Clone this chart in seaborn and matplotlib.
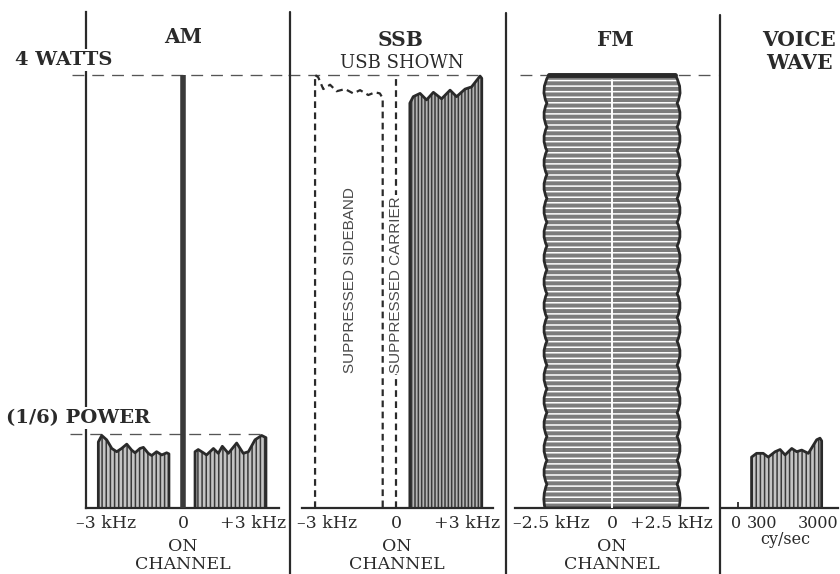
import matplotlib.pyplot as plt
from matplotlib.lines import Line2D
from matplotlib.patches import PathPatch
from matplotlib.path import Path
import numpy as np
import seaborn as sns

# power in watts against offset from the channel centre in kHz
full_w = 4.0
sixth_w = 0.68
carrier_khz = 0.0

am_lsb_khz = [-2.95, -2.83, -2.66, -2.48, -2.31, -2.14, -1.96, -1.79, -1.67,
              -1.50, -1.38, -1.21, -1.09, -0.92, -0.74, -0.57, -0.49]
am_lsb_w = [0.61, 0.67, 0.63, 0.55, 0.52, 0.55, 0.59, 0.535, 0.51,
            0.55, 0.56, 0.505, 0.485, 0.52, 0.49, 0.51, 0.50]
am_usb_khz = [0.42, 0.53, 0.71, 0.82, 1.06, 1.23, 1.37, 1.58, 1.87, 2.10,
              2.28, 2.51, 2.74, 2.89]
am_usb_w = [0.52, 0.54, 0.51, 0.49, 0.55, 0.505, 0.57, 0.505, 0.60, 0.505,
            0.52, 0.63, 0.67, 0.65]

ssb_lsb_khz = [-2.86, -2.75, -2.57, -2.33, -2.10, -1.80, -1.51, -1.27, -0.98,
               -0.74, -0.57, -0.47]
ssb_lsb_w = [4.00, 3.98, 3.87, 3.91, 3.85, 3.87, 3.83, 3.86, 3.815,
             3.84, 3.83, 3.785]
ssb_usb_khz = [0.49, 0.61, 0.85, 1.08, 1.32, 1.61, 1.91, 2.14, 2.44, 2.67,
               2.85, 2.97, 3.03]
ssb_usb_w = [3.74, 3.80, 3.83, 3.77, 3.84, 3.78, 3.86, 3.80, 3.87, 3.89,
             3.95, 3.99, 3.97]

# FM right edge, bottom to top: even = pinch, odd = bulge
fm_edge_w = [0.00, 0.11, 0.22, 0.33, 0.44, 0.55, 0.66, 0.77, 0.88, 0.99,
             1.10, 1.21, 1.32, 1.43, 1.54, 1.65, 1.76, 1.87, 1.98, 2.09,
             2.20, 2.31, 2.42, 2.53, 2.64, 2.75, 2.86, 2.97, 3.08, 3.19,
             3.30, 3.41, 3.52, 3.63, 3.74, 3.86, 4.00]
fm_edge_khz = [2.50, 2.54, 2.43, 2.54, 2.43, 2.54, 2.43, 2.54, 2.43, 2.54,
               2.43, 2.54, 2.43, 2.54, 2.43, 2.54, 2.43, 2.54, 2.43, 2.54,
               2.43, 2.54, 2.43, 2.54, 2.43, 2.54, 2.43, 2.54, 2.43, 2.54,
               2.43, 2.54, 2.43, 2.54, 2.43, 2.54, 2.36]

voice_khz = [0.49, 0.67, 0.91, 1.09, 1.34, 1.52, 1.70, 1.94, 2.12, 2.30,
             2.54, 2.84, 2.96, 3.02]
voice_w = [0.47, 0.505, 0.505, 0.47, 0.52, 0.54, 0.49, 0.55, 0.52, 0.535,
           0.505, 0.63, 0.645, 0.62]

am_ticks, am_labels = [-3, 0, 3], ['–3 kHz', '0', '+3 kHz']
ssb_ticks, ssb_labels = [-3, 0, 3], ['–3 kHz', '0', '+3 kHz']
fm_ticks, fm_labels = [-2.5, 0, 2.5], ['–2.5 kHz', '0', '+2.5 kHz']
voice_ticks, voice_labels = [0, 0.3, 3.0], ['0', '300', '3000']

sns.set_theme(style="white")
plt.rcParams['font.family'] = ['DejaVu Serif']
plt.rcParams['hatch.linewidth'] = 1.1

INK = '#2a2a2a'
HATCH = '#3a3a3a'
DASH = (0, (9, 6))
SHORT = (0, (3, 2))
W, H = 840, 574
BASE, TOP, PX_W = 508, 12, 108.25

fig = plt.figure(figsize=(8.4, 5.74), dpi=100)
fig.patch.set_facecolor('white')


def panel(x0, x1, zero, px_khz):
    ax = fig.add_axes([x0 / W, 1 - BASE / H, (x1 - x0) / W, (BASE - TOP) / H])
    ax.set_facecolor('none')
    for side in ['top', 'right', 'left']:
        ax.spines[side].set_visible(False)
    for side in ['bottom', 'left']:
        ax.spines[side].set_color(INK)
        ax.spines[side].set_linewidth(1.6)
    ax.set_xticks([])
    ax.set_yticks([])
    ax.lims = ((x0 - zero) / px_khz, (x1 - zero) / px_khz)
    return ax


def envelope(ax, khz, w, hatch='||||', face='#c4c4c4', ls='-', lw=2.0, fill=True):
    xs = np.r_[khz[0], khz, khz[-1]]
    ys = np.r_[0.0, w, 0.0]
    if fill:
        ax.fill_between(xs, ys, facecolor=face, edgecolor=HATCH, hatch=hatch,
                        linewidth=0, zorder=2)
    sns.lineplot(x=xs, y=ys, sort=False, estimator=None, color=INK,
                 linewidth=lw, linestyle=ls, solid_joinstyle='round', ax=ax, zorder=3)


def tick_labels(ax, ticks, labels, shifts, size=12.5):
    for t, lab, dx in zip(ticks, labels, shifts):
        ax.annotate(lab, xy=(t, 0), xytext=(dx * 0.72, -14.4), textcoords='offset points',
                    ha='center', va='baseline', fontsize=size, color=INK)


def on_channel(ax, dx):
    for lab, dy in [('ON', -43), ('CHANNEL', -61)]:
        ax.annotate(lab, xy=(0, 0), xytext=(dx * 0.72, dy * 0.72), textcoords='offset points',
                    ha='center', va='baseline', fontsize=12.5, color=INK)


def ftext(x, y, s, size=14, weight='bold', box=False):
    kw = dict(bbox=dict(facecolor='white', edgecolor='none', pad=1.5)) if box else {}
    fig.text(x / W, 1 - y / H, s, ha='center', va='center', fontsize=size,
             fontweight=weight, color=INK, **kw)


# ---- AM ----
am = panel(86, 279, 183, 28.7)
am.spines['left'].set_visible(True)
envelope(am, am_lsb_khz, am_lsb_w)
envelope(am, am_usb_khz, am_usb_w)
am.vlines(carrier_khz, 0, full_w, color='#3a3a3a', lw=4, zorder=4)
am.plot([-3.87, 3.73], [full_w, full_w], color='#555555', lw=0.95, ls=DASH, clip_on=False)
am.plot([-3.94, 2.96], [sixth_w, sixth_w], color='#555555', lw=0.95, ls=DASH, clip_on=False)
tick_labels(am, am_ticks, am_labels, [9, 0, -16])
on_channel(am, 0)

# ---- SSB ----
ssb = panel(302, 493, 396, 28.3)
envelope(ssb, ssb_lsb_khz, ssb_lsb_w, ls=SHORT, lw=1.6, fill=False)
envelope(ssb, ssb_usb_khz, ssb_usb_w, hatch='|||||', face='#b4b4b4')
ssb.plot([carrier_khz, carrier_khz], [0, full_w], color=INK, lw=1.6, ls=SHORT)
ssb.plot([-3.82, 3.0], [full_w, full_w], color='#555555', lw=0.95, ls=DASH, clip_on=False)
ssb.text(-1.64, 1.25, 'SUPPRESSED SIDEBAND', rotation=90, ha='center', va='bottom',
         family=['Liberation Sans', 'DejaVu Sans'], fontsize=11, color='#4a4a4a')
ssb.text(carrier_khz, 1.25, 'SUPPRESSED CARRIER', rotation=90, ha='center', va='bottom',
         family=['Liberation Sans', 'DejaVu Sans'], fontsize=11, color='#4a4a4a', zorder=5,
         bbox=dict(facecolor='white', edgecolor='none', pad=1))
tick_labels(ssb, ssb_ticks, ssb_labels, [16, 0, -14])
on_channel(ssb, 1)

# ---- FM ----
fm = panel(515, 708, 612, 26.8)
right = []
for i, (x, y) in enumerate(zip(fm_edge_khz, fm_edge_w)):
    if i % 2:
        x = 2 * x - (fm_edge_khz[i - 1] + fm_edge_khz[i + 1]) / 2
    right.append((x, y))
left = [(-x, y) for x, y in reversed(right)]
verts = [left[-1]] + right + left + [left[-1]]
codes = ([Path.MOVETO, Path.LINETO] + [Path.CURVE3] * (len(right) - 1) + [Path.LINETO]
         + [Path.CURVE3] * (len(left) - 1) + [Path.CLOSEPOLY])
fm_path = Path(verts, codes)
fm.plot([-3.43, 3.96], [full_w, full_w], color='#555555', lw=0.95, ls=DASH, clip_on=False)
fm.add_patch(PathPatch(fm_path, facecolor='#7c7c7c', edgecolor='white', hatch='---',
                       lw=0, zorder=2))
fm.add_patch(PathPatch(fm_path, fill=False, edgecolor=INK, lw=2.0, zorder=3))
fm.plot([-fm_edge_khz[-1], fm_edge_khz[-1]], [full_w, full_w], color=INK, lw=3.5,
        solid_capstyle='round', zorder=4)
fm.plot([carrier_khz, carrier_khz], [0, full_w - 0.05], color='white', lw=1.4, zorder=4)
tick_labels(fm, fm_ticks, fm_labels, [6, 0, -8])
on_channel(fm, 0)

# ---- voice ----
voice = panel(722, 838, 738, 27.7)
envelope(voice, voice_khz, voice_w)
voice.set_xticks([voice_ticks[0]])
voice.tick_params(axis='x', direction='in', length=4, width=1.3, color=INK,
                  labelbottom=False, bottom=True)
tick_labels(voice, voice_ticks, voice_labels, [-2, 16, -3], size=11.5)
voice.annotate('cy/sec', xy=(1.7, 0), xytext=(0, -26), textcoords='offset points',
               ha='center', va='baseline', fontsize=11.5, color=INK)

for ax in [am, ssb, fm, voice]:
    ax.set_xlim(*ax.lims)
    ax.set_ylim(0, (BASE - TOP) / PX_W)

# panel dividers
for x, y0 in [(290, 12), (506, 13), (720, 15)]:
    fig.add_artist(Line2D([x / W, x / W], [1 - y0 / H, 0], color=INK, lw=1.6))

ftext(64, 60, '4 WATTS', box=True)
ftext(78, 418, '(1/6) POWER', box=True)
ftext(183, 37, 'AM', size=14.5)
ftext(401, 40, 'SSB', size=14.5)
ftext(402, 63, 'USB SHOWN', size=13, weight='normal')
ftext(615, 40, 'FM', size=14.5)
ftext(799, 40, 'VOICE', size=14.5)
ftext(799, 63, 'WAVE', size=14.5)

fig.savefig('out.png', dpi=100, facecolor='white')
